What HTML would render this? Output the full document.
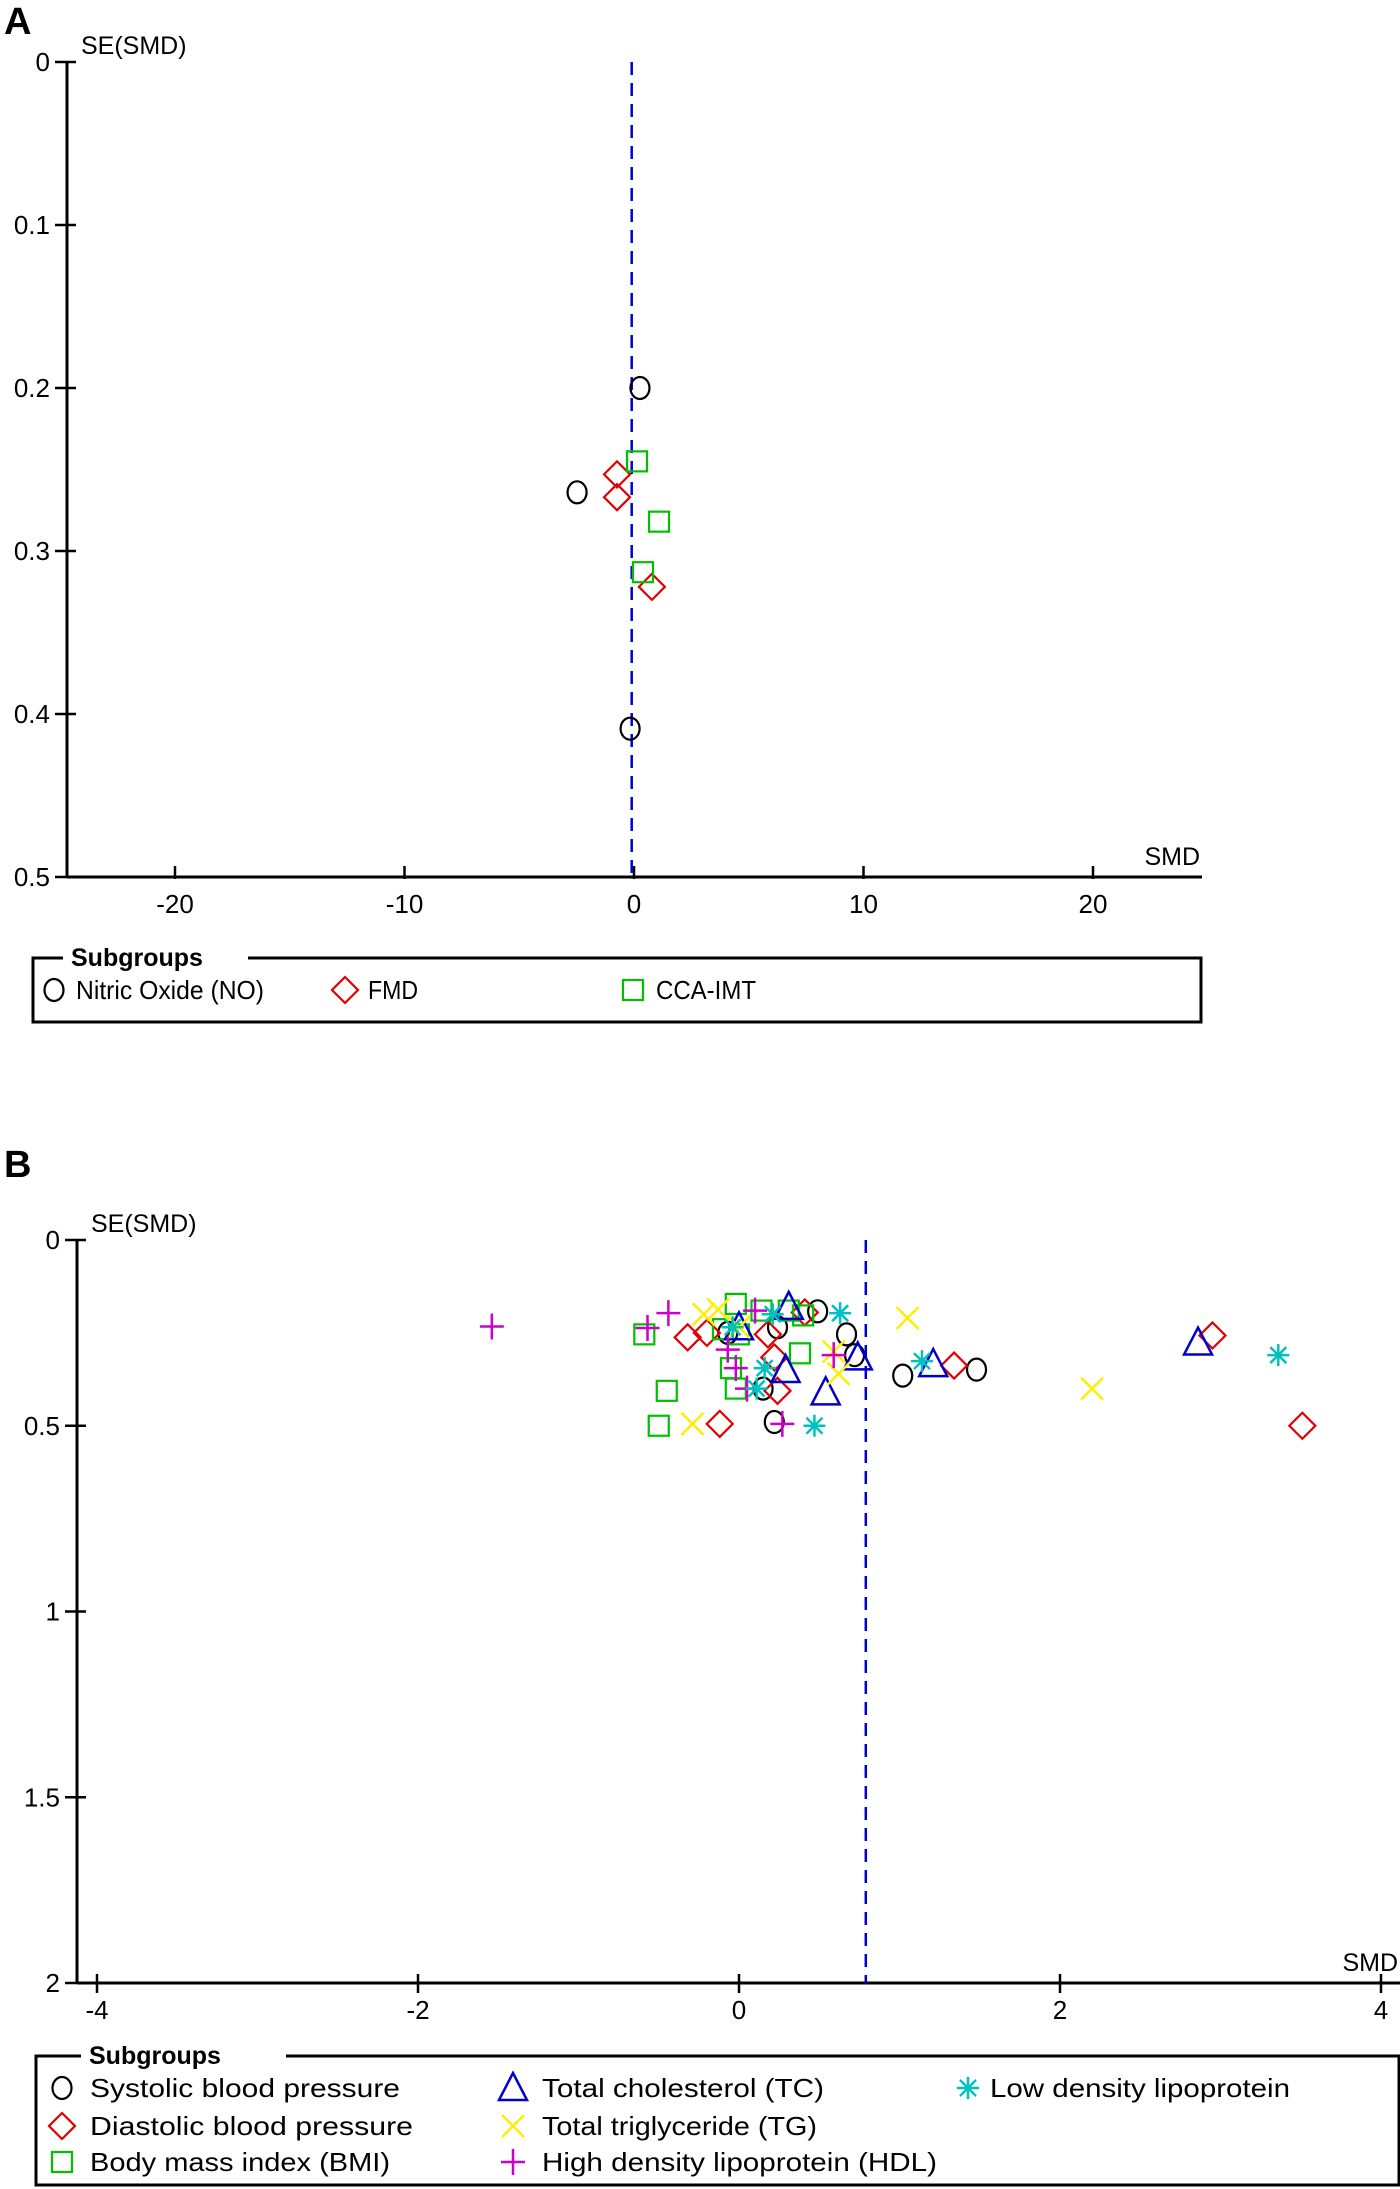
<!DOCTYPE html>
<html><head><meta charset="utf-8"><style>
html,body{margin:0;padding:0;background:#fff;}
svg{display:block;}
text{font-family:"Liberation Sans Narrow","Liberation Sans",sans-serif;fill:#000;}
</style></head><body>
<svg id="fig" width="1400" height="2189" viewBox="0 0 1400 2189" xmlns="http://www.w3.org/2000/svg">
<text x="4" y="34" font-size="38" font-weight="bold" font-family="Liberation Sans, sans-serif">A</text>
<text x="4" y="1177" font-size="38" font-weight="bold" font-family="Liberation Sans, sans-serif">B</text>
<g id="pa"></g>
<g id="pb"></g>
</svg>
<script>
// Panel A data
const aNoSMD=[0.26,-2.48,-0.17];
const aNoSE=[0.2,0.264,0.409];
const aFmdSMD=[-0.74,-0.74,0.78];
const aFmdSE=[0.253,0.267,0.322];
const aCcaSMD=[0.13,1.09,0.39];
const aCcaSE=[0.245,0.282,0.313];
const aXTicks=[-20,-10,0,10,20];
const aYTicks=[0,0.1,0.2,0.3,0.4,0.5];
const aPooled=-0.1;
// Panel B data
const bSbpSMD=[0.49,0.24,0.67,-0.07,0.72,1.02,0.15,0.22,1.48];
const bSbpSE=[0.192,0.235,0.254,0.25,0.31,0.365,0.40,0.49,0.349];
const bDbpSMD=[-0.32,-0.2,0.18,0.41,0.22,0.24,-0.12,1.34,2.95,3.51];
const bDbpSE=[0.262,0.25,0.254,0.195,0.316,0.406,0.495,0.338,0.257,0.50];
const bBmiSMD=[-0.59,-0.02,0.14,0.31,0.40,-0.10,0.0,0.38,-0.05,-0.02,-0.45,-0.50];
const bBmiSE=[0.254,0.172,0.19,0.19,0.203,0.24,0.254,0.305,0.345,0.40,0.406,0.50];
const bTcSMD=[0.31,0.0,0.29,0.74,0.54,1.21,2.86];
const bTcSE=[0.18,0.235,0.35,0.316,0.41,0.334,0.276];
const bTgSMD=[-0.22,-0.13,0.0,0.59,0.62,-0.29,1.05,2.2];
const bTgSE=[0.20,0.187,0.235,0.30,0.36,0.495,0.21,0.40];
const bHdlSMD=[-0.44,-0.57,0.10,-0.07,-0.02,0.05,0.59,0.27,-1.54];
const bHdlSE=[0.197,0.237,0.19,0.295,0.345,0.40,0.31,0.495,0.233];
const bLdlSMD=[-0.04,0.21,0.63,0.16,0.11,0.47,1.14,3.36];
const bLdlSE=[0.235,0.20,0.197,0.345,0.40,0.50,0.326,0.31];
const bXTicks=[-4,-2,0,2,4];
const bYTicks=[0,0.5,1,1.5,2];
const bYLabels=["0","0.5","1","1.5","2"];
const bPooled=0.79;

const NS='http://www.w3.org/2000/svg';
function mk(parent,tag,attrs){const e=document.createElementNS(NS,tag);for(const k in attrs)e.setAttribute(k,attrs[k]);parent.appendChild(e);return e;}

function marker(g,type,cx,cy){
  let e;
  if(type==='circle'){e=mk(g,'ellipse',{cx:cx,cy:cy,rx:9.5,ry:11,fill:'none',stroke:'#000','stroke-width':2.2});}
  else if(type==='diamond'){e=mk(g,'polygon',{points:`${cx},${cy-13} ${cx+13},${cy} ${cx},${cy+13} ${cx-13},${cy}`,fill:'none',stroke:'#e00000','stroke-width':2.2});}
  else if(type==='square'){e=mk(g,'rect',{x:cx-10,y:cy-10,width:20,height:20,fill:'none',stroke:'#00c000','stroke-width':2.2});}
  else if(type==='triangle'){e=mk(g,'polygon',{points:`${cx},${cy-15} ${cx+14},${cy+12} ${cx-14},${cy+12}`,fill:'none',stroke:'#0000cc','stroke-width':2.5});}
  else if(type==='x'){e=mk(g,'path',{d:`M${cx-11},${cy-11}L${cx+11},${cy+11}M${cx+11},${cy-11}L${cx-11},${cy+11}`,stroke:'#ffee00','stroke-width':2.5,fill:'none'});}
  else if(type==='plus'){e=mk(g,'path',{d:`M${cx-12},${cy}L${cx+12},${cy}M${cx},${cy-13}L${cx},${cy+13}`,stroke:'#cc00cc','stroke-width':2.5,fill:'none'});}
  else if(type==='star'){e=mk(g,'path',{d:`M${cx-11},${cy}L${cx+11},${cy}M${cx},${cy-11}L${cx},${cy+11}M${cx-8},${cy-8}L${cx+8},${cy+8}M${cx+8},${cy-8}L${cx-8},${cy+8}`,stroke:'#00c0c0','stroke-width':2.5,fill:'none'});}
  return e;
}

function panel(g,cfg){
  const X=v=>cfg.x0+(v-cfg.xmin)*cfg.xs;
  const Y=v=>cfg.y0+v*cfg.ys;
  // y axis
  let e=mk(g,'line',{x1:cfg.ax,y1:Y(0),x2:cfg.ax,y2:Y(cfg.ymax),stroke:'#000','stroke-width':3});
  
  
  e=mk(g,'line',{x1:cfg.ax,y1:Y(cfg.ymax),x2:cfg.axEnd,y2:Y(cfg.ymax),stroke:'#000','stroke-width':3});
  
  
  cfg.yTicks.forEach((t,i)=>{
    const l=mk(g,'line',{x1:cfg.ax-12,y1:Y(t),x2:cfg.ax+9,y2:Y(t),stroke:'#000','stroke-width':2.5});
    
    
    const tx=mk(g,'text',{x:cfg.ax-17,y:Y(t)+9,'font-size':26,'text-anchor':'end'});
    tx.textContent=cfg.yLabels?cfg.yLabels[i]:String(t);
    
    
  });
  cfg.xTicks.forEach(t=>{
    const yb=Y(cfg.ymax);
    const l=mk(g,'line',{x1:X(t),y1:yb-cfg.tUp,x2:X(t),y2:yb+cfg.tDown,stroke:'#000','stroke-width':2.5});
    
    
    const tx=mk(g,'text',{x:X(t),y:yb+cfg.lblOff,'font-size':26,'text-anchor':'middle'});
    tx.textContent=String(t);
    
    
  });
  e=mk(g,'line',{x1:X(cfg.pooled),y1:Y(0),x2:X(cfg.pooled),y2:Y(cfg.ymax),stroke:'#0000cc','stroke-width':2.5,'stroke-dasharray':'13 8'});
  
  
  let t=mk(g,'text',{x:cfg.ax+14,y:Y(0)-8,'font-size':25});
  t.textContent='SE(SMD)';
  
  
  t=mk(g,'text',{x:cfg.smdX,y:Y(cfg.ymax)-12,'font-size':25,'text-anchor':'end'});
  t.textContent='SMD';
  
  
  cfg.series.forEach(s=>{
    s.smd.forEach((v,i)=>{
      const m=marker(g,s.type,X(v),Y(s.se[i]));
      
      
    });
  });
  // legend
  const L=cfg.legend;
  const lg=mk(g,'g',{});
  
  
  mk(lg,'path',{d:`M${L.x1+L.gap2},${L.y1}L${L.x2},${L.y1}L${L.x2},${L.y2}L${L.x1},${L.y2}L${L.x1},${L.y1}L${L.x1+L.gap1},${L.y1}`,fill:'none',stroke:'#000','stroke-width':3});
  t=mk(lg,'text',{x:L.x1+L.gap1+8,y:L.y1+8,'font-size':25,'font-weight':'bold'});
  t.textContent='Subgroups';
  
  
  L.items.forEach(it=>{
    const m=marker(lg,it.type,it.mx,it.y);
    
    
    const tx=mk(lg,'text',{x:it.tx,y:it.y+9,'font-size':26,textLength:it.w,lengthAdjust:'spacingAndGlyphs'});
    tx.textContent=it.label;
    
    
  });
}

panel(document.getElementById('pa'),{
  xmin:0,x0:634,xs:22.95,y0:62,ys:1630,ymax:0.5,ax:67,axEnd:1202,
  tUp:11,tDown:2,lblOff:36,smdX:1200,pooled:aPooled,
  xTicks:aXTicks,yTicks:aYTicks,
  series:[{name:'nitric-oxide',type:'circle',smd:aNoSMD,se:aNoSE},
          {name:'fmd',type:'diamond',smd:aFmdSMD,se:aFmdSE},
          {name:'cca-imt',type:'square',smd:aCcaSMD,se:aCcaSE}],
  legend:{x1:33,x2:1201,y1:958,y2:1022,gap1:30,gap2:215,items:[
    {type:'circle',mx:54,tx:76,y:990,label:'Nitric Oxide (NO)',w:188},
    {type:'diamond',mx:345,tx:368,y:990,label:'FMD',w:50},
    {type:'square',mx:633,tx:656,y:990,label:'CCA-IMT',w:100}]}
});
panel(document.getElementById('pb'),{
  xmin:0,x0:739,xs:160.5,y0:1240,ys:371.5,ymax:2,ax:77,axEnd:1400,
  tUp:9,tDown:10,lblOff:36,smdX:1398,pooled:bPooled,
  xTicks:bXTicks,yTicks:bYTicks,yLabels:bYLabels,
  series:[{name:'systolic-bp',type:'circle',smd:bSbpSMD,se:bSbpSE},
          {name:'diastolic-bp',type:'diamond',smd:bDbpSMD,se:bDbpSE},
          {name:'bmi',type:'square',smd:bBmiSMD,se:bBmiSE},
          {name:'total-cholesterol',type:'triangle',smd:bTcSMD,se:bTcSE},
          {name:'total-triglyceride',type:'x',smd:bTgSMD,se:bTgSE},
          {name:'hdl',type:'plus',smd:bHdlSMD,se:bHdlSE},
          {name:'ldl',type:'star',smd:bLdlSMD,se:bLdlSE}],
  legend:{x1:36,x2:1399,y1:2056,y2:2185,gap1:45,gap2:250,items:[
    {type:'circle',mx:62,tx:90,y:2088,label:'Systolic blood pressure',w:310},
    {type:'diamond',mx:62,tx:90,y:2126,label:'Diastolic blood pressure',w:323},
    {type:'square',mx:62,tx:90,y:2162,label:'Body mass index (BMI)',w:300},
    {type:'triangle',mx:513,tx:542,y:2088,label:'Total cholesterol (TC)',w:282},
    {type:'x',mx:513,tx:542,y:2126,label:'Total triglyceride (TG)',w:275},
    {type:'plus',mx:513,tx:542,y:2162,label:'High density lipoprotein (HDL)',w:395},
    {type:'star',mx:968,tx:990,y:2088,label:'Low density lipoprotein',w:300}]}
});
</script>
</body></html>
